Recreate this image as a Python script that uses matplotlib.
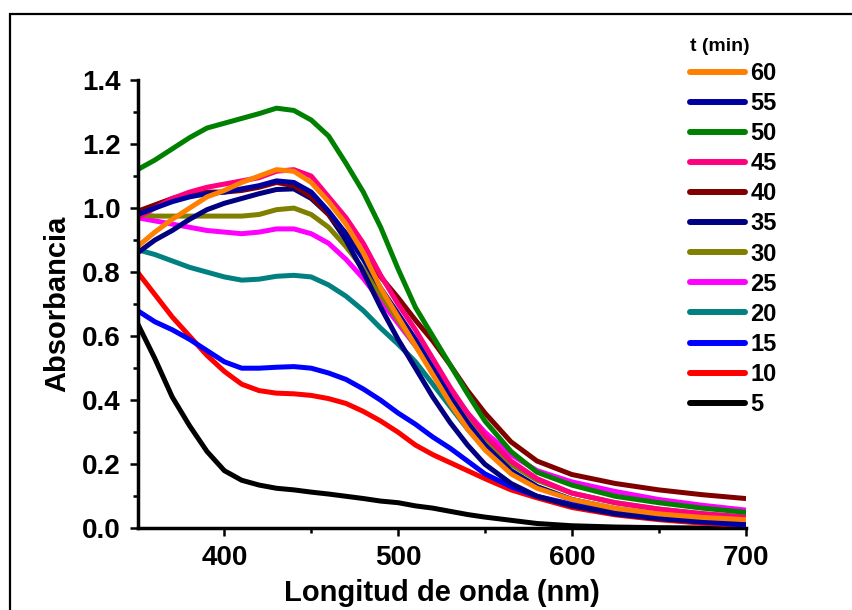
import matplotlib
matplotlib.use("Agg")
import matplotlib.pyplot as plt
from matplotlib.patches import Rectangle

plt.rcParams['font.family'] = ['Liberation Sans', 'DejaVu Sans']
plt.rcParams['font.weight'] = 'bold'

wl = [350, 360, 370, 380, 390, 400, 410, 420, 430, 440, 450, 460, 470, 480,
      490, 500, 510, 520, 530, 540, 550, 565, 580, 600, 625, 650, 675, 700]

# absorbance per reaction time (min)
a5 = [0.64, 0.53, 0.41, 0.32, 0.24, 0.18, 0.15, 0.135, 0.125, 0.12, 0.113, 0.107, 0.10, 0.093,
      0.085, 0.08, 0.07, 0.063, 0.053, 0.043, 0.035, 0.025, 0.015, 0.008, 0.004, 0.002, 0.001, 0.0]
a10 = [0.80, 0.73, 0.66, 0.60, 0.54, 0.49, 0.45, 0.43, 0.422, 0.42, 0.415, 0.405, 0.39, 0.365,
       0.335, 0.30, 0.26, 0.23, 0.205, 0.18, 0.155, 0.12, 0.095, 0.065, 0.042, 0.027, 0.016, 0.008]
a15 = [0.68, 0.645, 0.62, 0.59, 0.555, 0.52, 0.50, 0.50, 0.503, 0.505, 0.50, 0.485, 0.465, 0.435,
       0.40, 0.36, 0.325, 0.285, 0.25, 0.21, 0.17, 0.13, 0.10, 0.075, 0.05, 0.033, 0.02, 0.01]
a20 = [0.87, 0.855, 0.835, 0.815, 0.80, 0.785, 0.775, 0.778, 0.787, 0.79, 0.785, 0.76, 0.725, 0.68,
       0.625, 0.575, 0.52, 0.45, 0.38, 0.31, 0.25, 0.18, 0.13, 0.09, 0.062, 0.045, 0.033, 0.025]
a25 = [0.97, 0.96, 0.95, 0.94, 0.93, 0.925, 0.92, 0.925, 0.935, 0.935, 0.92, 0.89, 0.84, 0.78,
       0.71, 0.64, 0.57, 0.50, 0.43, 0.36, 0.30, 0.23, 0.18, 0.145, 0.115, 0.09, 0.072, 0.057]
a30 = [0.98, 0.975, 0.975, 0.975, 0.975, 0.975, 0.975, 0.98, 0.995, 1.0, 0.98, 0.94, 0.88, 0.81,
       0.73, 0.65, 0.57, 0.49, 0.41, 0.34, 0.27, 0.20, 0.15, 0.11, 0.08, 0.06, 0.045, 0.035]
a35 = [0.86, 0.90, 0.93, 0.965, 0.995, 1.015, 1.03, 1.045, 1.058, 1.06, 1.03, 0.98, 0.90, 0.80,
       0.69, 0.59, 0.50, 0.41, 0.33, 0.26, 0.20, 0.14, 0.10, 0.07, 0.045, 0.03, 0.02, 0.015]
a40 = [0.99, 1.01, 1.03, 1.045, 1.05, 1.05, 1.055, 1.065, 1.08, 1.07, 1.035, 0.98, 0.92, 0.85,
       0.785, 0.72, 0.65, 0.585, 0.51, 0.43, 0.36, 0.27, 0.21, 0.168, 0.14, 0.12, 0.105, 0.093]
a45 = [0.97, 1.0, 1.03, 1.05, 1.065, 1.075, 1.085, 1.095, 1.115, 1.12, 1.10, 1.035, 0.97, 0.89,
       0.79, 0.70, 0.62, 0.53, 0.44, 0.36, 0.29, 0.21, 0.155, 0.11, 0.08, 0.06, 0.046, 0.035]
a50 = [1.12, 1.15, 1.185, 1.22, 1.25, 1.265, 1.28, 1.295, 1.312, 1.305, 1.275, 1.225, 1.14, 1.05,
       0.94, 0.81, 0.69, 0.60, 0.51, 0.42, 0.335, 0.24, 0.175, 0.135, 0.10, 0.08, 0.063, 0.05]
a55 = [0.98, 1.0, 1.02, 1.035, 1.045, 1.05, 1.06, 1.07, 1.085, 1.08, 1.05, 0.99, 0.92, 0.84,
       0.75, 0.67, 0.59, 0.50, 0.41, 0.33, 0.26, 0.18, 0.13, 0.09, 0.058, 0.038, 0.025, 0.015]
a60 = [0.88, 0.925, 0.965, 1.0, 1.035, 1.055, 1.08, 1.10, 1.12, 1.115, 1.08, 1.02, 0.95, 0.86,
       0.75, 0.66, 0.57, 0.48, 0.39, 0.31, 0.245, 0.17, 0.125, 0.09, 0.062, 0.045, 0.034, 0.027]

series = [a5, a10, a15, a20, a25, a30, a35, a40, a45, a50, a55, a60]
labels = ['5', '10', '15', '20', '25', '30', '35', '40', '45', '50', '55', '60']
colors = ['#000000', '#FF0000', '#0000FF', '#008080', '#FF00FF', '#808000',
          '#000080', '#800000', '#FF0080', '#008000', '#0000A0', '#FF8000']

fig = plt.figure(figsize=(8.52, 6.10), dpi=100)
ax = fig.add_axes([137.5 / 852, 1 - 528.3 / 610, (745.5 - 137.5) / 852, (528.3 - 80) / 610])

lines = []
for y, lab, c in zip(series, labels, colors):
    ln, = ax.plot(wl, y, color=c, lw=3.6, label=lab,
                  solid_capstyle='round', solid_joinstyle='round')
    lines.append(ln)

ax.set_xlim(350, 700)
ax.set_ylim(0, 1.4)
ax.set_xticks([400, 500, 600, 700])
ax.set_xticks([450, 550, 650], minor=True)
ax.set_yticks([0.0, 0.2, 0.4, 0.6, 0.8, 1.0, 1.2, 1.4])
ax.set_yticks([0.1, 0.3, 0.5, 0.7, 0.9, 1.1, 1.3], minor=True)
ax.set_yticklabels(['0.0', '0.2', '0.4', '0.6', '0.8', '1.0', '1.2', '1.4'])
ax.tick_params(which='major', length=6, width=1.8, labelsize=20, pad=6)
ax.tick_params(which='minor', length=3.5, width=1.8)
for s in ['top', 'right']:
    ax.spines[s].set_visible(False)
for s in ['left', 'bottom']:
    ax.spines[s].set_linewidth(2.5)

ax.set_xlabel('Longitud de onda (nm)', fontsize=21, fontweight='bold', labelpad=6)
ax.set_ylabel('Absorbancia', fontsize=21, fontweight='bold', labelpad=8)

leg = ax.legend(lines[::-1], labels[::-1], title='t (min)', loc='upper left',
                bbox_to_anchor=(690 / 852, 1 - 38 / 610), bbox_transform=fig.transFigure,
                frameon=False, fontsize=17, title_fontsize=14, alignment='left',
                handlelength=2.35, handletextpad=0.2, labelspacing=0.3,
                borderpad=0, borderaxespad=0)
for h in leg.get_lines():
    h.set_linewidth(4.3)
plt.setp(leg.get_title(), fontweight='bold')

fig.patches.append(Rectangle((9.5 / 852, -0.05), 1.1, 1 - 14 / 610 + 0.05,
                             transform=fig.transFigure, fill=False, lw=1.6,
                             edgecolor='black', clip_on=False))

fig.savefig('out.png', dpi=100)
